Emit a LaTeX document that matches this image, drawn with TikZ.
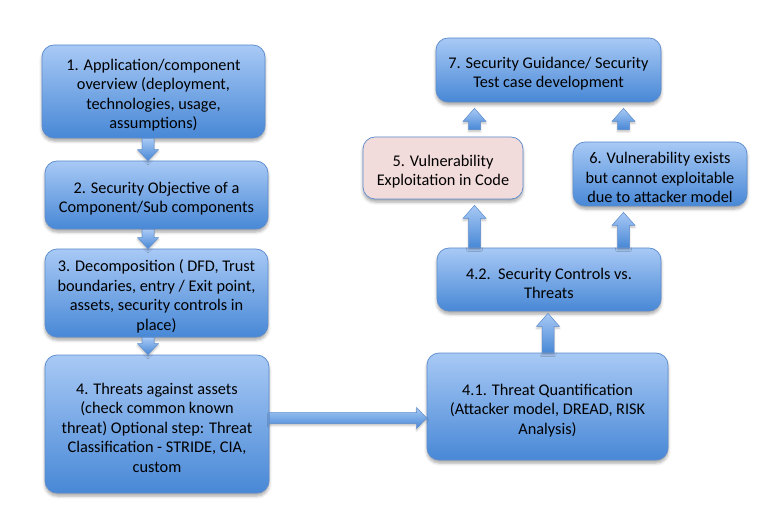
\documentclass[tikz,border=0pt]{standalone}
\usepackage{fontspec}
\setmainfont{Carlito}
\usetikzlibrary{calc,shadows.blur}
\definecolor{btop}{RGB}{168,201,245}
\definecolor{bbot}{RGB}{72,136,214}
\definecolor{bdr}{RGB}{92,140,205}
\definecolor{pinkfill}{RGB}{242,220,219}
\newcommand\tp{\rule{0pt}{19pt}}
\newcommand\barrUp[2]{\path[blockarr] let \p1=#1, \p2=#2 in
  (\x1-6pt,\y1) -- (\x1-6pt,\y2-13pt) -- (\x1-11.5pt,\y2-13pt) -- (\x1,\y2)
  -- (\x1+11.5pt,\y2-13pt) -- (\x1+6pt,\y2-13pt) -- (\x1+6pt,\y1) -- cycle;}
\newcommand\barrDown[2]{\path[blockarr] let \p1=#1, \p2=#2 in
  (\x1-6pt,\y1) -- (\x1-6pt,\y2+11pt) -- (\x1-10.5pt,\y2+11pt) -- (\x1,\y2)
  -- (\x1+10.5pt,\y2+11pt) -- (\x1+6pt,\y2+11pt) -- (\x1+6pt,\y1) -- cycle;}
\newcommand\barrRight[2]{\path[blockarr] let \p1=#1, \p2=#2 in
  (\x1,\y1+5.5pt) -- (\x2-10pt,\y1+5.5pt) -- (\x2-10pt,\y1+10.5pt) -- (\x2,\y1)
  -- (\x2-10pt,\y1-10.5pt) -- (\x2-10pt,\y1-5.5pt) -- (\x1,\y1-5.5pt) -- cycle;}
\begin{document}
\begin{tikzpicture}[x=1pt,y=-1pt,
  box/.style={draw=bdr, line width=0.7pt, rounded corners=12pt,
    top color=btop, bottom color=bbot, align=center, inner sep=0pt,
    font=\fontsize{16.3}{19.5}\selectfont, text=black,
    blur shadow={shadow xshift=0pt, shadow yshift=-3pt, shadow blur radius=3pt, shadow opacity=35}},
  pinkbox/.style={box, fill=pinkfill, top color=pinkfill, bottom color=pinkfill},
  blockarr/.style={draw=bdr, line width=0.5pt, top color=btop, bottom color=bbot,
    blur shadow={shadow xshift=0pt, shadow yshift=-2pt, shadow blur radius=2pt, shadow opacity=25}}]
\useasboundingbox (0,0) rectangle (777,505);

\node[box, minimum width=223pt, minimum height=93pt] (b1) at (153.5,91.5)
  {\tp 1. Application/component\\overview (deployment,\\technologies, usage,\\assumptions)};
\node[box, minimum width=223pt, minimum height=68pt] (b2) at (156.5,195)
  {\tp 2. Security Objective of a\\Component/Sub components};
\node[box, minimum width=223pt, minimum height=88pt] (b3) at (156.5,293)
  {\tp 3. Decomposition ( DFD, Trust\\boundaries, entry / Exit point,\\assets, security controls in\\place)};
\node[box, minimum width=224pt, minimum height=138pt] (b4) at (157,424)
  {\tp 4. Threats against assets\\(check common known\\threat) Optional step: Threat\\Classification - STRIDE, CIA,\\custom};
\node[box, minimum width=241pt, minimum height=107pt] (b41) at (547.5,406.5)
  {\tp 4.1. Threat Quantification\\(Attacker model, DREAD, RISK\\Analysis)};
\node[box, minimum width=224pt, minimum height=63pt] (b42) at (549,279.5)
  {\tp 4.2.\ \ Security Controls vs.\\Threats};
\node[pinkbox, minimum width=160pt, minimum height=62pt] (b5) at (443,168)
  {\tp 5. Vulnerability\\Exploitation in Code};
\node[box, minimum width=174pt, minimum height=64pt] (b6) at (660,174)
  {\tp 6. Vulnerability exists\\but cannot exploitable\\due to attacker model};
\node[box, minimum width=225pt, minimum height=64pt] (b7) at (548.5,70)
  {\tp 7. Security Guidance/ Security\\Test case development};

\barrDown{(148,0 |- b1.south)}{(148,0 |- b2.north)}
\barrDown{(148,0 |- b2.south)}{(148,0 |- b3.north)}
\barrDown{(148,0 |- b3.south)}{(148,0 |- b4.north)}
\barrRight{(b4.east |- 0,418)}{(b41.west |- 0,418)}
\barrUp{(548,0 |- b41.north)}{($(548,0 |- b42.south)+(0,2)$)}
\barrUp{(474.5,0 |- b42.north)}{($(474.5,0 |- b5.south)+(0,6)$)}
\barrUp{(623.5,0 |- b42.north)}{($(623.5,0 |- b6.south)+(0,6)$)}
\barrUp{($(474.5,0 |- b5.north)+(0,-7)$)}{($(474.5,0 |- b7.south)+(0,6)$)}
\barrUp{($(623.5,0 |- b6.north)+(0,-12)$)}{($(623.5,0 |- b7.south)+(0,6)$)}
\end{tikzpicture}
\end{document}
